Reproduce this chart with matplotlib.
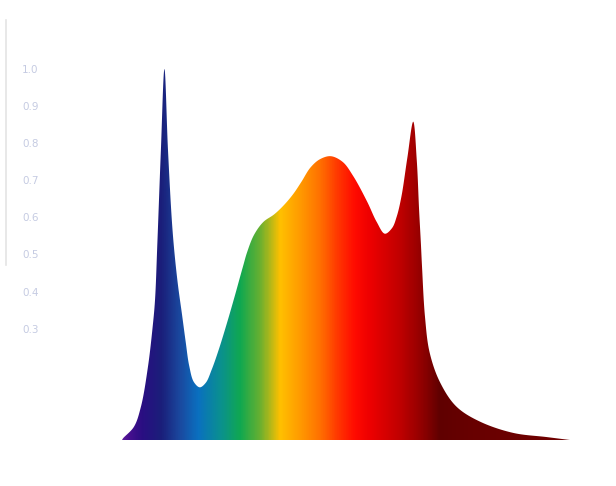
import numpy as np
import matplotlib
matplotlib.use("Agg")
from matplotlib import pyplot as plt
from matplotlib.colors import LinearSegmentedColormap
from matplotlib.patches import Polygon

# spectrum (wavelength nm, relative intensity)
wavelength = [414, 415, 424, 430, 436, 440, 442, 444, 447, 450, 453, 457, 461,
              465, 468, 471, 475, 480, 485, 490, 496, 503, 510, 514, 517, 520,
              526, 534, 543, 551, 559, 566, 574, 582, 591, 601, 610, 622, 630,
              637, 643, 647, 651, 656, 661, 664, 666, 667.5, 668.5, 671, 675,
              684, 698, 718, 746, 774, 794]
intensity = [0.0, 0.005, 0.035, 0.089, 0.197, 0.305, 0.377, 0.531, 0.782, 1.0,
             0.782, 0.56, 0.43, 0.336, 0.265, 0.200, 0.156, 0.142, 0.154,
             0.189, 0.243, 0.315, 0.392, 0.438, 0.472, 0.505, 0.553, 0.588,
             0.608, 0.632, 0.662, 0.695, 0.735, 0.757, 0.765, 0.750, 0.712,
             0.642, 0.588, 0.556, 0.571, 0.602, 0.656, 0.760, 0.858, 0.755,
             0.620, 0.531, 0.466, 0.332, 0.235, 0.154, 0.089, 0.049, 0.019,
             0.008, 0.0]

ytick_vals = [0.3, 0.4, 0.5, 0.6, 0.7, 0.8, 0.9, 1.0]
ytick_labels = ["0.3", "0.4", "0.5", "0.6", "0.7", "0.8", "0.9", "1.0"]

# colour stops of the rainbow fill
stop_nm = [414, 418, 430, 447, 463, 478, 497, 514, 531, 548, 565, 582, 599,
           612, 624, 650, 669, 684, 712, 794]
stop_col = ["#5a1a9a", "#4a1090", "#2a0e82", "#1a1f7a", "#1a4aa0", "#0a70c0",
            "#0a9090", "#10a850", "#6ab030", "#ffc000", "#ff9a00", "#ff7000",
            "#ff3000", "#ff0a00", "#ee0000", "#c00000", "#900000", "#600000",
            "#680000", "#700000"]


def smooth_outline(px, py, n=20):
    # centripetal catmull-rom through the points
    p = np.column_stack([px, py])
    scale = np.array([1.0, 380.0])  # make both axes comparable
    q = p * scale
    q = np.vstack([q[0] - (q[1] - q[0]), q, q[-1] + (q[-1] - q[-2])])
    out = []
    for i in range(1, len(q) - 2):
        p0, p1, p2, p3 = q[i - 1], q[i], q[i + 1], q[i + 2]
        t0 = 0.0
        t1 = t0 + np.linalg.norm(p1 - p0) ** 0.5 + 1e-9
        t2 = t1 + np.linalg.norm(p2 - p1) ** 0.5 + 1e-9
        t3 = t2 + np.linalg.norm(p3 - p2) ** 0.5 + 1e-9
        t = np.linspace(t1, t2, n, endpoint=False)[:, None]
        a1 = (t1 - t) / (t1 - t0) * p0 + (t - t0) / (t1 - t0) * p1
        a2 = (t2 - t) / (t2 - t1) * p1 + (t - t1) / (t2 - t1) * p2
        a3 = (t3 - t) / (t3 - t2) * p2 + (t - t2) / (t3 - t2) * p3
        b1 = (t2 - t) / (t2 - t0) * a1 + (t - t0) / (t2 - t0) * a2
        b2 = (t3 - t) / (t3 - t1) * a2 + (t - t1) / (t3 - t1) * a3
        out.append((t2 - t) / (t2 - t1) * b1 + (t - t1) / (t2 - t1) * b2)
    out.append(q[-2][None, :])
    out = np.vstack(out) / scale
    out[:, 1] = np.clip(out[:, 1], 0, None)
    return out


x0, x1 = wavelength[0], wavelength[-1]
cmap = LinearSegmentedColormap.from_list(
    "spec", [((n - x0) / (x1 - x0), c) for n, c in zip(stop_nm, stop_col)])

fig = plt.figure(figsize=(6.16, 4.86), dpi=100)
ax = fig.add_axes([122 / 616, 46 / 486, 448 / 616, 371 / 486])
ax.set_xlim(x0, x1)
ax.set_ylim(0, 1)

grad = np.linspace(0, 1, 800).reshape(1, -1)
img = ax.imshow(grad, cmap=cmap, extent=(x0, x1, 0, 1), aspect="auto",
                origin="lower", interpolation="bilinear")
outline = smooth_outline(wavelength, intensity)
poly = Polygon(outline, closed=True, facecolor="none", edgecolor="none",
               transform=ax.transData)
ax.add_patch(poly)
img.set_clip_path(poly)

for s in ax.spines.values():
    s.set_visible(False)
ax.set_xticks([])
ax.set_yticks(ytick_vals)
ax.set_yticklabels(ytick_labels, color="#c5cbe2", fontsize=7.5)
ax.tick_params(axis="y", length=0, pad=60)

# faint line on the left edge
fig.add_artist(plt.Line2D([6 / 616, 6 / 616], [1 - 20 / 486, 1 - 265 / 486],
                          color="#e4e4e4", lw=1.2))

fig.savefig("out.png", dpi=100, facecolor="white")
